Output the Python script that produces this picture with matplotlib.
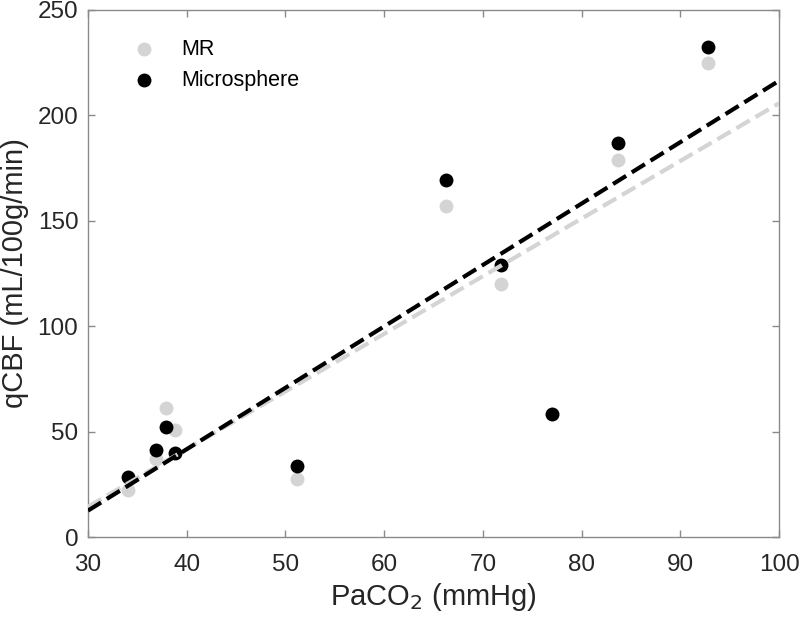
import numpy as np
import matplotlib
matplotlib.use('Agg')
import matplotlib.pyplot as plt

plt.rcParams['font.family'] = ['Liberation Sans', 'DejaVu Sans']

# PaCO2 (mmHg) for each animal, shared by both methods
paco2 = [34.1, 36.9, 37.9, 38.8, 51.2, 66.3, 71.8, 77.0, 83.7, 92.8]
# qCBF (mL/100g/min)
mr_cbf = [22.3, 37.0, 61.2, 50.8, 27.5, 157.1, 120.0, 58.3, 178.8, 225.0]
micro_cbf = [28.3, 41.3, 52.3, 39.8, 33.8, 169.4, 129.0, 58.3, 186.8, 232.6]

x_ticks = [30, 40, 50, 60, 70, 80, 90, 100]
y_ticks = [0, 50, 100, 150, 200, 250]

MR_COLOR = '#d4d4d4'
MICRO_COLOR = '#000000'
AXIS_COLOR = '#8a8a8a'
TEXT_COLOR = '#262626'

fig = plt.figure(figsize=(8, 6.24), dpi=100)
ax = fig.add_axes([0.11, 0.1394, 0.864, 0.8446])

ax.scatter(paco2, mr_cbf, s=100, color=MR_COLOR, label='MR', zorder=2, linewidths=0)
ax.scatter(paco2, micro_cbf, s=100, color=MICRO_COLOR, label='Microsphere', zorder=3, linewidths=0)

# linear fits over the axis range
xfit = np.array([x_ticks[0], x_ticks[-1]])
for y, c in [(mr_cbf, MR_COLOR), (micro_cbf, MICRO_COLOR)]:
    slope, intercept = np.polyfit(paco2, y, 1)
    ax.plot(xfit, slope * xfit + intercept, '--', color=c, lw=3, zorder=4)

ax.set_xlim(x_ticks[0], x_ticks[-1])
ax.set_ylim(y_ticks[0], y_ticks[-1])
ax.set_xticks(x_ticks)
ax.set_yticks(y_ticks)

for side in ['left', 'right', 'top', 'bottom']:
    ax.spines[side].set_color(AXIS_COLOR)
    ax.spines[side].set_linewidth(1.0)
ax.tick_params(direction='in', length=5, width=1, color=AXIS_COLOR,
               labelcolor=TEXT_COLOR, labelsize=17.5, top=True, right=True)
ax.tick_params(axis='x', pad=12)
ax.tick_params(axis='y', pad=7)

ax.set_xlabel('PaCO$_2$ (mmHg)', fontsize=21, color=TEXT_COLOR, labelpad=4)
ax.set_ylabel('qCBF (mL/100g/min)', fontsize=21, color=TEXT_COLOR, labelpad=6)

ax.legend(loc='upper left', bbox_to_anchor=(0.016, 0.99), frameon=False,
          fontsize=15.5, handletextpad=0.7, labelspacing=0.45, borderpad=0.6)

fig.savefig('out.png', dpi=100)
